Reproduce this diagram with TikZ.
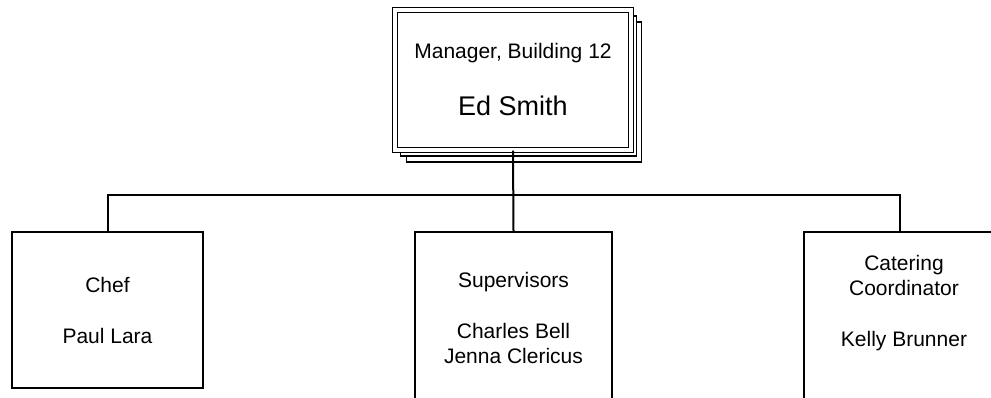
\documentclass[tikz,border=0pt]{standalone}
\usepackage{fontspec}
\setmainfont{Liberation Sans}
\usepackage{tikz}
\usetikzlibrary{shadows}

\tikzset{
  orgbox/.style={draw=black, line width=2pt, fill=white, align=center,
    font=\fontsize{21}{25}\selectfont, inner sep=0pt},
  headbox/.style={orgbox, double, line width=1.4pt, double distance=3.6pt,
    double copy shadow={shadow xshift=5.5pt, shadow yshift=-6pt, draw=black,
      fill=white, line width=1.3pt}},
  link/.style={draw=black, line width=2pt}
}

\begin{document}
\begin{tikzpicture}[x=1pt, y=-1pt]
                    \useasboundingbox (0,0) rectangle (991,398);
                    \clip (0,0) rectangle (991,398);
                    \node[headbox, minimum width=235.5pt, minimum height=140pt] (mgr) at (513,80)
                        {Manager, Building 12\\[32pt]{\fontsize{27}{32}\selectfont Ed Smith}};
                    \node[orgbox, minimum width=191pt, minimum height=156pt] (chef) at (107.5,310)
                        {Chef\\[26pt]Paul Lara};
                    \node[orgbox, minimum width=197pt, minimum height=172pt] (sup) at (513.5,318)
                        {Supervisors\\[26pt]Charles Bell\\Jenna Clericus};
                    \node[orgbox, minimum width=200pt, minimum height=172pt] (cat) at (904,318)
                        {Catering\\Coordinator\\[26pt]Kelly Brunner\\[10pt]\mbox{}};
                    \coordinate (bus) at (513,195);
                    \draw[link] (mgr.south) -- (sup.north);
                    \draw[link] (chef.north) |- (bus);
                    \draw[link] (bus) -| ([xshift=-4pt]cat.north);
                \end{tikzpicture}
\end{document}
